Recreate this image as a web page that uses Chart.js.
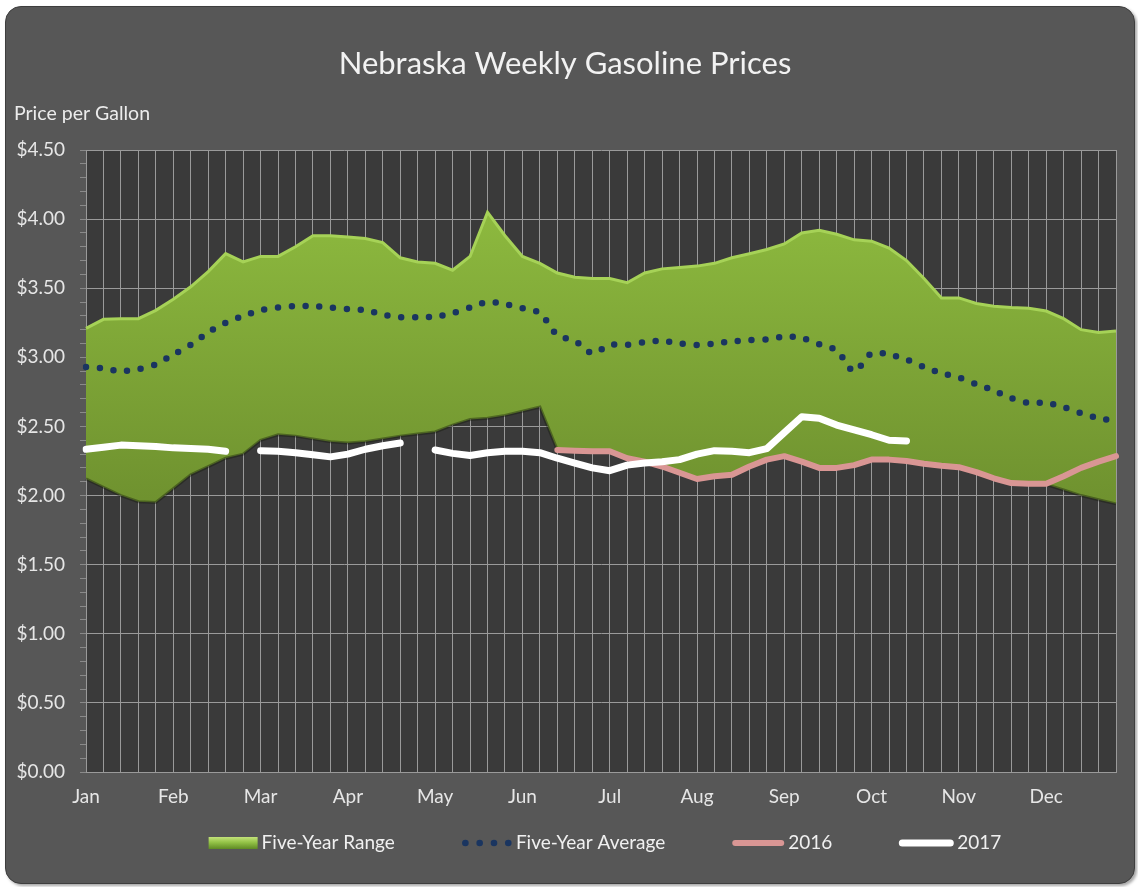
<!DOCTYPE html>
<html><head><meta charset="utf-8">
<script src="https://cdn.jsdelivr.net/npm/chart.js@4.4.1/dist/chart.umd.min.js"></script>
<style>
html,body{margin:0;padding:0;background:#fff;width:1138px;height:887px;overflow:hidden}
#frame{position:absolute;left:5px;top:6px;width:1130px;height:878px;background:#575757;border-radius:16px;border:1px solid #3e3e3e;box-shadow:2px 2px 3px rgba(0,0,0,0.35);box-sizing:border-box}
#wrap{position:absolute;left:0;top:0;width:1138px;height:887px}
</style></head><body>
<div id="frame"></div>
<div id="wrap"><canvas id="c" width="1138" height="887"></canvas></div>
<script>
const titleText = 'Nebraska Weekly Gasoline Prices';
const yAxisTitle = 'Price per Gallon';
const months = ['Jan','Feb','Mar','Apr','May','Jun','Jul','Aug','Sep','Oct','Nov','Dec'];
const seriesNames = ['Five-Year Range','Five-Year Average','2016','2017'];

const rangeHigh = [3.21,3.275,3.28,3.28,3.34,3.42,3.51,3.62,3.75,3.69,
  3.73,3.73,3.80,3.88,3.88,3.87,3.86,3.83,3.72,3.69,
  3.68,3.63,3.73,4.05,3.88,3.73,3.68,3.61,3.58,3.57,
  3.57,3.54,3.61,3.64,3.65,3.66,3.68,3.72,3.75,3.78,
  3.82,3.90,3.92,3.89,3.85,3.84,3.79,3.70,3.57,3.43,
  3.43,3.39,3.37,3.36,3.355,3.335,3.28,3.20,3.18,3.19];

const rangeLow = [2.12,2.06,2.00,1.955,1.95,2.05,2.15,2.21,2.27,2.30,
  2.40,2.44,2.43,2.41,2.39,2.38,2.39,2.41,2.43,2.445,
  2.46,2.51,2.55,2.56,2.58,2.61,2.64,2.33,2.325,2.32,
  2.32,2.27,2.245,2.21,2.165,2.12,2.14,2.15,2.21,2.26,
  2.285,2.245,2.20,2.20,2.22,2.26,2.26,2.25,2.23,2.215,
  2.205,2.17,2.125,2.09,2.085,2.08,2.04,2.00,1.97,1.94];

const fiveYearAvg = [2.93,2.92,2.90,2.915,2.95,3.02,3.09,3.18,3.25,3.30,
  3.34,3.36,3.37,3.37,3.36,3.35,3.34,3.31,3.29,3.29,
  3.295,3.32,3.36,3.40,3.385,3.355,3.32,3.16,3.12,3.03,
  3.09,3.09,3.11,3.12,3.10,3.09,3.10,3.115,3.125,3.13,
  3.15,3.14,3.095,3.05,2.90,3.03,3.02,2.985,2.93,2.885,
  2.855,2.805,2.76,2.705,2.67,2.67,2.64,2.595,2.56,2.54];

const prices2016 = [null,null,null,null,null,null,null,null,null,null,
  null,null,null,null,null,null,null,null,null,null,
  null,null,null,null,null,null,null,2.33,2.325,2.32,
  2.32,2.27,2.245,2.21,2.165,2.12,2.14,2.15,2.21,2.26,
  2.285,2.245,2.20,2.20,2.22,2.26,2.26,2.25,2.23,2.215,
  2.205,2.17,2.125,2.09,2.085,2.085,2.14,2.20,2.245,2.285];

const prices2017 = [2.335,2.35,2.365,2.36,2.355,2.345,2.34,2.335,2.32,null,
  2.325,2.32,2.31,2.295,2.28,2.30,2.335,2.36,2.38,null,
  2.33,2.305,2.29,2.31,2.32,2.32,2.31,2.27,2.235,2.20,
  2.18,2.22,2.235,2.245,2.26,2.30,2.325,2.32,2.31,2.34,
  2.455,2.57,2.56,2.51,2.475,2.44,2.40,2.395,null,null,
  null,null,null,null,null,null,null,null,null,null];

const yMin = 0, yMax = 4.5, yMajor = 0.5, yMinor = 0.1;
const periodsPerMonth = 5;

const xLabels = rangeHigh.map((_, i) => i % periodsPerMonth === 0 ? (months[i / periodsPerMonth] || '') : '');

Chart.defaults.font.family = 'Lato';

const plotBg = {
  id: 'plotBg',
  beforeDraw(chart) {
    const {ctx, chartArea: a} = chart;
    ctx.save();
    ctx.fillStyle = '#3a3a3a';
    ctx.fillRect(a.left, a.top, a.right - a.left, a.bottom - a.top);
    ctx.restore();
  }
};

const customLegend = {
  id: 'customLegend',
  afterDraw(chart) {
    const ctx = chart.ctx;
    ctx.save();
    ctx.font = '19px Lato';
    ctx.textBaseline = 'middle';
    const swW = [49, 50, 52, 54];
    const gapText = 4, gapItem = 67;
    const widths = seriesNames.map((t, i) => swW[i] + gapText + ctx.measureText(t).width);
    const total = widths.reduce((a, b) => a + b, 0) + gapItem * (seriesNames.length - 1);
    let x = 605 - total / 2;
    const y = 843;
    seriesNames.forEach((t, i) => {
      const w = swW[i];
      if (i === 0) {
        const g = ctx.createLinearGradient(0, y - 6, 0, y + 6);
        g.addColorStop(0, '#c3e27a');
        g.addColorStop(0.45, '#93c247');
        g.addColorStop(1, '#5f8a24');
        ctx.fillStyle = g;
        ctx.fillRect(x, y - 6, w, 12);
      } else if (i === 1) {
        ctx.fillStyle = '#1a3560';
        for (let d = 0; d < 4; d++) {
          ctx.beginPath();
          ctx.arc(x + 3.5 + d * 14.3, y, 3.3, 0, Math.PI * 2);
          ctx.fill();
        }
      } else {
        ctx.strokeStyle = i === 2 ? '#d99694' : '#ffffff';
        ctx.lineWidth = i === 2 ? 6 : 7;
        ctx.lineCap = 'round';
        ctx.beginPath();
        ctx.moveTo(x + 3, y);
        ctx.lineTo(x + w - 3, y);
        ctx.stroke();
      }
      ctx.fillStyle = '#f0f0f0';
      ctx.fillText(t, x + w + gapText, y);
      x += widths[i] + gapItem;
    });
    ctx.restore();
  }
};

function greenFill(context) {
  const chart = context.chart;
  const a = chart.chartArea;
  if (!a) return '#7ca336';
  const g = chart.ctx.createLinearGradient(0, a.top + 70, 0, a.top + 370);
  g.addColorStop(0, '#8cb83e');
  g.addColorStop(1, '#6d8f2e');
  return g;
}

new Chart(document.getElementById('c'), {
  type: 'line',
  data: {
    labels: xLabels,
    datasets: [
      { label: seriesNames[0] + ' low', data: rangeLow, borderColor: 'rgba(20,25,10,0.4)', borderWidth: 3,
        pointRadius: 0, tension: 0, fill: false, order: 10 },
      { label: seriesNames[0], data: rangeHigh, borderColor: '#a6d257', borderWidth: 3,
        backgroundColor: greenFill, pointRadius: 0, tension: 0, fill: '-1', order: 10 },
      { label: seriesNames[1], data: fiveYearAvg, borderColor: '#1a3560', borderWidth: 6.5,
        borderDash: [0, 13.8], borderCapStyle: 'round', pointRadius: 0, tension: 0.3, fill: false, order: 3 },
      { label: seriesNames[2], data: prices2016, borderColor: '#d99694', borderWidth: 6,
        borderCapStyle: 'round', borderJoinStyle: 'round', pointRadius: 0, tension: 0, fill: false, order: 2 },
      { label: seriesNames[3], data: prices2017, borderColor: '#ffffff', borderWidth: 7,
        borderCapStyle: 'round', borderJoinStyle: 'round', pointRadius: 0, tension: 0, fill: false, spanGaps: false, order: 1 }
    ]
  },
  options: {
    responsive: false,
    animation: false,
    events: [],
    layout: { padding: { left: 14, right: 22, top: 0, bottom: 70 } },
    plugins: {
      legend: { display: false },
      tooltip: { enabled: false },
      title: { display: true, text: titleText, color: '#f2f2f2',
        font: { family: 'Lato', size: 31, weight: 'normal' }, padding: { top: 45.4, bottom: 0 } },
      subtitle: { display: true, text: yAxisTitle, align: 'start', color: '#ececec',
        font: { family: 'Lato', size: 19.5, weight: 'normal' }, padding: { top: 19.7, bottom: 24.3 } }
    },
    scales: {
      x: {
        type: 'category',
        offset: false,
        afterFit(s) { s.height = 45; },
        grid: { color: '#9a9a9a', lineWidth: 1, drawTicks: false },
        border: { display: true, color: '#9a9a9a' },
        ticks: { autoSkip: false, maxRotation: 0, padding: 13, color: '#e6e6e6',
          font: { family: 'Lato', size: 19 } }
      },
      y: {
        min: yMin, max: yMax,
        afterFit(s) { s.width = 72; },
        afterBuildTicks(s) {
          const n = Math.round((yMax - yMin) / yMinor);
          s.ticks = Array.from({ length: n + 1 }, (_, i) => ({ value: +(yMin + i * yMinor).toFixed(2) }));
        },
        grid: {
          color: c => (c.tick && Math.round(c.tick.value * 10) % Math.round(yMajor * 10) === 0) ? '#9a9a9a' : 'rgba(0,0,0,0)',
          tickColor: '#8a8a8a', tickLength: 6, lineWidth: 1
        },
        border: { display: true, color: '#9a9a9a' },
        ticks: {
          padding: 15, color: '#e6e6e6', font: { family: 'Lato', size: 19 }, autoSkip: false,
          callback: v => (Math.round(v * 10) % Math.round(yMajor * 10) === 0) ? '$' + Number(v).toFixed(2) : ''
        }
      }
    }
  },
  plugins: [plotBg, customLegend]
});
</script>
</body></html>
